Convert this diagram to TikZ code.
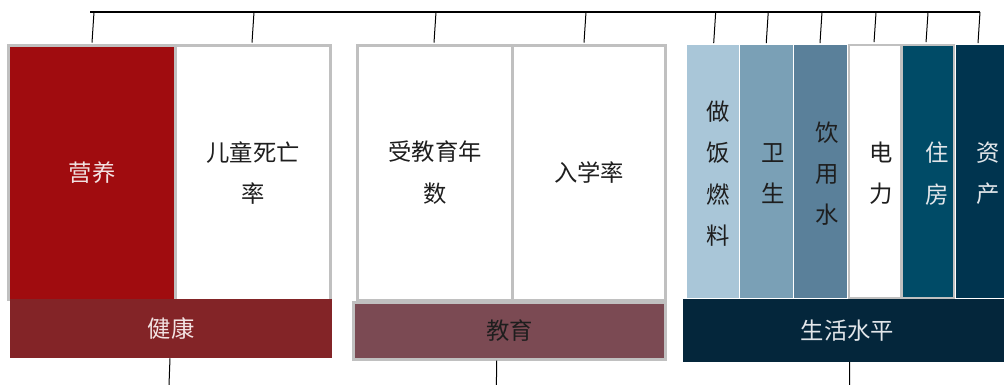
\documentclass[tikz,border=0pt]{standalone}
\usepackage{fontspec}
\newfontfamily\cjk{Noto Sans CJK SC}
\definecolor{cellgray}{HTML}{C0C0C0}
\definecolor{nutred}{HTML}{A00C0F}
\definecolor{healthred}{HTML}{832427}
\definecolor{eduplum}{HTML}{7B4A53}
\definecolor{livnavy}{HTML}{04263B}
\definecolor{blueA}{HTML}{A9C6D8}
\definecolor{blueB}{HTML}{7AA0B6}
\definecolor{blueC}{HTML}{5A809A}
\definecolor{blueD}{HTML}{004B67}
\definecolor{blueE}{HTML}{00344F}
\definecolor{darktext}{HTML}{1E1E1E}
\definecolor{palered}{HTML}{F2E2E2}
\definecolor{paleblue}{HTML}{E2E6EA}
\newcommand\pxu{0.75pt}
\tikzset{
  cjktext/.style={font=\cjk\fontsize{17.5pt}{31pt}\selectfont,align=center,text=darktext},
  cell/.style={cjktext,draw=cellgray,line width=2.2pt,inner sep=0pt,minimum height=254.5*\pxu,minimum width=#1*\pxu},
  slim/.style={draw=white,line width=0.75pt,inner sep=0pt,minimum height=253*\pxu,minimum width=#1*\pxu},
  bar/.style={cjktext,inner sep=0pt,minimum width=#1*\pxu,minimum height=59*\pxu},
  tick/.style={line width=0.75pt,black}
}
\begin{document}
\begin{tikzpicture}[x=0.75pt,y=-0.75pt]
  \useasboundingbox (0,0) rectangle (1004,385);
  \coordinate (top) at (90,12);
  \coordinate (topend) at (980,12);
  \coordinate (bottom) at (0,385);
  \draw[line width=1.6pt] (top) -- (topend);

  % health and education
  \node[cell=167,fill=nutred,text=palered] (nutrition) at (92,172.75) {营养};
  \node[cell=155] (mortality) at (253,172.75) {儿童死亡\\率};
  \node[cell=155] (schooling) at (435,172.75) {受教育年\\数};
  \node[cell=152.5] (enrolment) at (589,172.75) {入学率};

  % standard of living
  \foreach \name/\xc/\w/\col in {cooking/712.5/53/blueA,sanitation/766.25/54.5/blueB,water/820.5/54/blueC,assets/982.5/55/blueE}{%
    \node[slim=\w,fill=\col] (\name) at (\xc,171.5) {};
  }
  \node[slim=52.5,draw=cellgray,line width=2.2pt,fill=white] (electricity) at (875.25,171.5) {};
  \node[slim=52.5,draw=cellgray,line width=2.2pt,fill=blueD] (housing) at (927.75,171.5) {};
  \foreach \name/\tx/\col/\txt in {cooking/718.5/darktext/{做\\饭\\燃\\料},sanitation/773.3/darktext/{卫\\生},
      water/826.7/darktext/{饮\\用\\水},electricity/881/darktext/{电\\力},housing/936.7/paleblue/{住\\房},assets/988/paleblue/{资\\产}}{%
    \node[cjktext,text=\col] (\name-t) at (\tx,173.5) {\txt};
  }

  % dimension bars
  \node[bar=322,fill=healthred,text=palered] (health) at (171,328.5) {健康};
  \node[bar=311.7,minimum height=57*\pxu,draw=cellgray,line width=2.2pt,fill=eduplum] (education) at (509.4,330.7) {教育};
  \node[bar=330,minimum height=62.7*\pxu,fill=livnavy,text=paleblue] (living) at (847.5,330.3) {生活水平};

  \foreach \c/\dx in {nutrition/0,mortality/-1,schooling/-1,enrolment/-5,cooking/1.2,sanitation/0,water/-0.5,electricity/-1.2,housing/-1.7,assets/-4.5}{%
    \draw[tick] ([xshift=\dx*\pxu,yshift=1.1pt]\c.north) -- ([xshift=(\dx+2)*\pxu]\c.north |- top);
  }
  \draw[tick] ([xshift=-1*\pxu]health.south) -- ([xshift=-2*\pxu]health.south |- bottom);
  \draw[tick] ([xshift=-12.7*\pxu]education.south) -- ([xshift=-13*\pxu]education.south |- bottom);
  \draw[tick] ([xshift=2.2*\pxu]living.south) -- ([xshift=2*\pxu]living.south |- bottom);
\end{tikzpicture}
\end{document}
